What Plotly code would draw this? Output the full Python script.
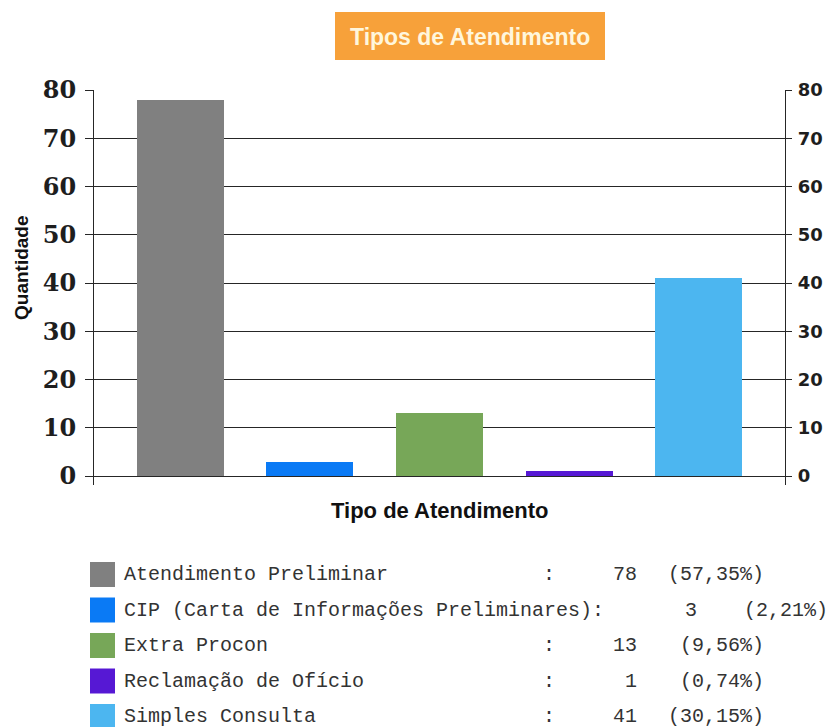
import plotly.graph_objects as go

# ---- data -------------------------------------------------------------
categories = [
    "Atendimento Preliminar",
    "CIP (Carta de Informações Preliminares)",
    "Extra Procon",
    "Reclamação de Ofício",
    "Simples Consulta",
]
quantities = [78, 3, 13, 1, 41]
bar_colors = ["#808080", "#0A7AF5", "#77A758", "#5618D4", "#4CB6F0"]
y_ticks = [0, 10, 20, 30, 40, 50, 60, 70, 80]

chart_title = "Tipos de Atendimento"
x_title = "Tipo de Atendimento"
y_title = "Quantidade"

# ---- page geometry (pixels) ------------------------------------------
W, H = 830, 727
L, R, T, B = 94, 785, 90, 485          # plot area edges
Y_BOTTOM = -1.865                        # small gap below the zero line


def px_x(px):
    return (px - L) / (R - L)


def px_y(py):
    return (B - py) / (B - T)


fig = go.Figure()

fig.add_trace(go.Bar(
    x=categories,
    y=quantities,
    marker=dict(color=bar_colors, line=dict(width=0)),
    width=0.672,
    showlegend=False,
    hoverinfo="x+y",
))

grid_color = "#262626"
axis_common = dict(
    range=[Y_BOTTOM, 80],
    tickvals=y_ticks,
    showline=True,
    linecolor=grid_color,
    linewidth=1.2,
    ticks="outside",
    tickcolor=grid_color,
    tickwidth=1.2,
    zeroline=False,
    fixedrange=True,
    automargin=False,
)

fig.update_layout(
    width=W,
    height=H,
    margin=dict(l=L, r=W - R, t=T, b=H - B, pad=0, autoexpand=False),
    paper_bgcolor="white",
    plot_bgcolor="white",
    bargap=0,
    xaxis=dict(
        type="category",
        range=[-0.667, 4.667],
        showticklabels=False,
        ticks="",
        showgrid=False,
        showline=False,
        zeroline=False,
        fixedrange=True,
        automargin=False,
    ),
    yaxis=dict(
        **axis_common,
        side="left",
        ticklen=8,
        ticklabelstandoff=4,
        showgrid=True,
        gridcolor=grid_color,
        gridwidth=1.2,
        tickfont=dict(family="DejaVu Serif", size=24, color="#1E1E1E", weight="bold"),
    ),
    yaxis2=dict(
        **axis_common,
        side="right",
        overlaying="y",
        matches="y",
        ticklen=6,
        ticklabelstandoff=2,
        showgrid=False,
        tickfont=dict(family="DejaVu Sans", size=18, color="#1E1E1E", weight="bold"),
    ),
)

# invisible companion trace so the right-hand axis is drawn
fig.add_trace(go.Scatter(
    x=categories, y=quantities, yaxis="y2", mode="markers",
    marker=dict(opacity=0), showlegend=False, hoverinfo="skip",
))

shapes = []
annotations = []

# title box
shapes.append(dict(
    type="rect", xref="paper", yref="paper",
    x0=px_x(335), x1=px_x(605), y0=px_y(60), y1=px_y(12),
    fillcolor="#F7A13A", line=dict(width=0), layer="above",
))
annotations.append(dict(
    text=chart_title, xref="paper", yref="paper",
    x=px_x(470), y=px_y(37), xanchor="center", yanchor="middle",
    showarrow=False,
    font=dict(family="Liberation Sans", size=23, color="#FFF6DC", weight="bold"),
))

# axis titles
annotations.append(dict(
    text=y_title, xref="paper", yref="paper",
    x=px_x(21), y=px_y(268), xanchor="center", yanchor="middle",
    textangle=-90, showarrow=False,
    font=dict(family="Liberation Sans", size=19, color="#111111", weight="bold"),
))
annotations.append(dict(
    text=x_title, xref="paper", yref="paper",
    x=px_x(440), y=px_y(511), xanchor="center", yanchor="middle",
    showarrow=False,
    font=dict(family="Liberation Sans", size=22, color="#111111", weight="bold"),
))

# legend table underneath the chart
total = sum(quantities)
mono = dict(family="Liberation Mono", size=20, color="#333333")
CELL = 12            # advance of one monospace character
TEXT_X = 123         # left edge of the name column
NAME_COLS = 35       # name column width in characters
VALUE_END = 639      # right edge of the value column
PCT_END = 766        # right edge of the percentage column
ROW_TOP = 562
ROW_STEP = 35.5
SWATCH = 25

for i, (name, qty, color) in enumerate(zip(categories, quantities, bar_colors)):
    top = ROW_TOP + i * ROW_STEP
    mid = top + SWATCH / 2
    shapes.append(dict(
        type="rect", xref="paper", yref="paper",
        x0=px_x(90), x1=px_x(90 + SWATCH), y0=px_y(top + SWATCH), y1=px_y(top),
        fillcolor=color, line=dict(width=0),
    ))
    overflow = max(0, len(name) + 1 - NAME_COLS)
    if overflow:
        label = name + ":"
    else:
        label = name
        annotations.append(dict(
            text=":", xref="paper", yref="paper",
            x=px_x(TEXT_X + (NAME_COLS + 0.5) * CELL), y=px_y(mid),
            xanchor="center", yanchor="middle", showarrow=False, font=mono,
        ))
    annotations.append(dict(
        text=label, xref="paper", yref="paper",
        x=px_x(TEXT_X - 1), y=px_y(mid), xanchor="left", yanchor="middle",
        showarrow=False, font=mono,
    ))
    shift = overflow * CELL
    annotations.append(dict(
        text=str(qty), xref="paper", yref="paper",
        x=px_x(VALUE_END + shift), y=px_y(mid), xanchor="right", yanchor="middle",
        showarrow=False, font=mono,
    ))
    pct = f"({qty / total * 100:.2f}%)".replace(".", ",")
    pshift = overflow * CELL + 4 if overflow else 0
    annotations.append(dict(
        text=pct, xref="paper", yref="paper",
        x=px_x(PCT_END + pshift), y=px_y(mid), xanchor="right", yanchor="middle",
        showarrow=False, font=mono,
    ))

fig.update_layout(shapes=shapes, annotations=annotations)

fig.write_html("out.html")
